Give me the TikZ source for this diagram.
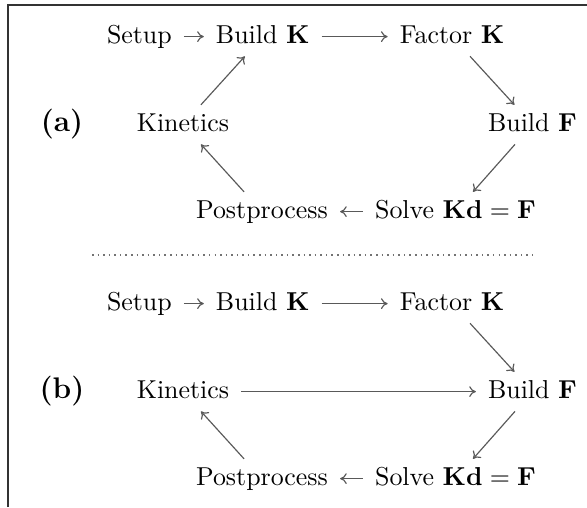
\documentclass[tikz,border=0pt]{standalone}
\usetikzlibrary{arrows.meta}
\begin{document}
\begin{tikzpicture}[x=0.3861pt,y=-0.3861pt,
  lbl/.style={anchor=base,inner xsep=4.5pt,inner ysep=3pt,text height=6.9pt,text depth=1.95pt},
  tag/.style={anchor=base,inner sep=0pt,font=\fontsize{11.5}{14}\selectfont\bfseries},
  arr/.style={-{To[length=2.6pt,width=4.2pt]},line width=0.45pt,draw=black!65},
  frame/.style={line width=0.9pt,draw=black!80},
  sep/.style={line width=0.7pt,draw=black!55,dash pattern=on 0.6pt off 1.55pt}]
\useasboundingbox (0,0) rectangle (587,507);
% frame
\coordinate (fb) at (8,507);
\coordinate (fc) at (8,5);
\coordinate (fr) at (587,5);
\draw[frame] (fb) -- (fc) -- (fr);
% separator
\coordinate (s1) at (92,255);
\coordinate (s2) at (533,255);
\draw[sep] (s1) -- (s2);
% (a)
\node[tag] (ta) at (62,131) {(a)};
\node[lbl] (a1) at (139.4,43) {Setup};
\node[lbl] (a2) at (262.75,43) {Build $\mathbf{K}$};
\node[lbl] (a3) at (452,43) {Factor $\mathbf{K}$};
\node[lbl] (a4) at (183,131) {Kinetics};
\node[lbl] (a5) at (532.5,131) {Build $\mathbf{F}$};
\node[lbl] (a6) at (262,218) {Postprocess};
\node[lbl] (a7) at (455.5,218) {Solve $\mathbf{Kd}=\mathbf{F}$};
\draw[arr] (a1) -- (a2);
\draw[arr] (a2) -- (a3);
\draw[arr] (a3) -- (a5);
\draw[arr] (a5) -- (a7);
\draw[arr] (a7) -- (a6);
\draw[arr] (a6) -- (a4);
\draw[arr] (a4) -- (a2);
% (b)
\node[tag] (tb) at (62,398) {(b)};
\node[lbl] (b1) at (139.4,310) {Setup};
\node[lbl] (b2) at (262.75,310) {Build $\mathbf{K}$};
\node[lbl] (b3) at (452,310) {Factor $\mathbf{K}$};
\node[lbl] (b4) at (183,398) {Kinetics};
\node[lbl] (b5) at (532.5,398) {Build $\mathbf{F}$};
\node[lbl] (b6) at (262,485) {Postprocess};
\node[lbl] (b7) at (455.5,485) {Solve $\mathbf{Kd}=\mathbf{F}$};
\draw[arr] (b1) -- (b2);
\draw[arr] (b2) -- (b3);
\draw[arr] (b3) -- (b5);
\draw[arr] (b5) -- (b7);
\draw[arr] (b7) -- (b6);
\draw[arr] (b6) -- (b4);
\draw[arr] (b4) -- (b5);
\end{tikzpicture}
\end{document}
